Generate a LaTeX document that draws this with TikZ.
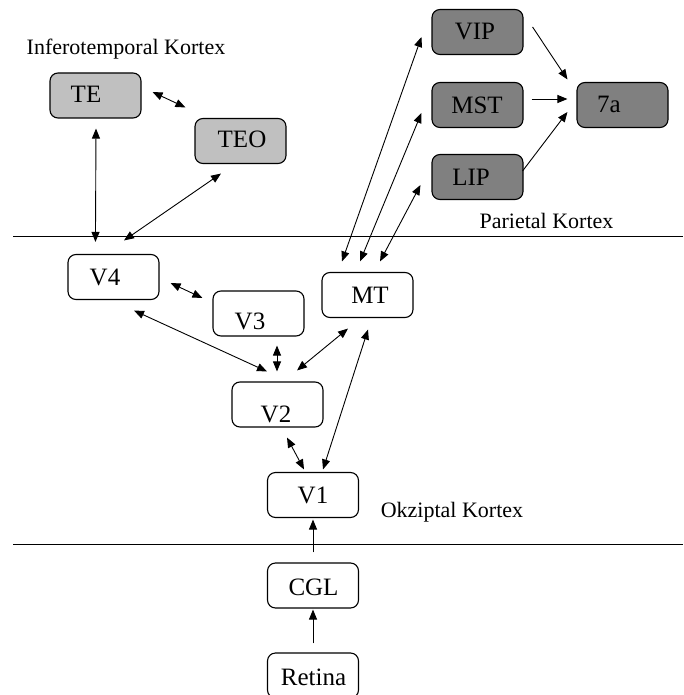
\documentclass[tikz,border=0pt]{standalone}
\usepackage{fontspec}
\setmainfont{Liberation Serif}
\usetikzlibrary{arrows.meta,calc}
\definecolor{itgray}{HTML}{C0C0C0}
\definecolor{pargray}{HTML}{808080}
\tikzset{
  area/.style={draw=none,rounded corners=8pt,line width=1.1pt,minimum width=91pt,minimum height=45pt,inner sep=0pt},
  box/.style={area,draw=black,fill=white},
  itbox/.style={area,draw=black,fill=itgray},
  parbox/.style={area,draw=black,fill=pargray},
  boxtxt/.style={anchor=base,inner sep=0pt,font=\fontsize{25}{29}\selectfont},
  region/.style={anchor=base,inner sep=0pt,font=\fontsize{22}{26}\selectfont},
  divider/.style={line width=0.9pt},
  link/.style={line width=0.9pt,->},
  biline/.style={line width=0.9pt,<->}
}
\begin{document}
\begin{tikzpicture}[x=1pt,y=-1pt,>={Triangle[length=10pt,width=8pt]}]
\useasboundingbox (0,0) rectangle (683,695);

% region dividers
\coordinate (divAl) at (13,236);
\coordinate (divAr) at (683,236);
\coordinate (divBl) at (13,544);
\coordinate (divBr) at (683,544);
\draw[divider] (divAl) -- (divAr);
\draw[divider] (divBl) -- (divBr);

% region captions
\node[region] (capIT) at (126,55) {Inferotemporal Kortex};
\node[region] (capPar) at (546.5,228) {Parietal Kortex};
\node[region] (capOcc) at (452,517) {Okziptal Kortex};

% inferotemporal areas
\node[itbox] (TE) at (95.5,95.5) {};
\node[boxtxt] (TEt) at (86,103) {TE};
\node[itbox] (TEO) at (240.5,141) {};
\node[boxtxt] (TEOt) at (242,148) {TEO};

% parietal areas
\node[parbox] (VIP) at (477.5,32) {};
\node[boxtxt] (VIPt) at (475,40) {VIP};
\node[parbox] (MST) at (477.5,105) {};
\node[boxtxt] (MSTt) at (477,114) {MST};
\node[parbox] (LIP) at (477.5,177) {};
\node[boxtxt] (LIPt) at (471,185) {LIP};
\node[parbox] (A7) at (622.5,105) {};
\node[boxtxt] (A7t) at (609,113) {7a};

% occipital areas
\node[box] (V4) at (113.5,277) {};
\node[boxtxt] (V4t) at (105,285) {V4};
\node[box] (V3) at (258.5,313.5) {};
\node[boxtxt] (V3t) at (250,329) {V3};
\node[box] (MT) at (367.5,295) {};
\node[boxtxt] (MTt) at (370,303) {MT};
\node[box] (V2) at (277.5,404.5) {};
\node[boxtxt] (V2t) at (276,422) {V2};
\node[box] (V1) at (313,495) {};
\node[boxtxt] (V1t) at (313,503) {V1};

% subcortical stations
\node[box] (CGL) at (313,585.5) {};
\node[boxtxt] (CGLt) at (313.5,595) {CGL};
\node[box] (Ret) at (313,675.5) {};
\node[boxtxt] (Rett) at (313.5,685) {Retina};

% ventral stream
\draw[biline] ($(TE.east)+(11,-3.5)$) -- ($(TEO.north west)+(-9,-10.5)$);
\draw[biline] ($(TE.south)+(0.5,10)$) -- ($(V4.north west)+(28,-12)$);
\draw[biline] ($(TEO.south)+(-19.5,9.5)$) -- ($(V4.north)+(10.5,-13.5)$);
\draw[biline] ($(V4.east)+(11,6)$) -- ($(V3.west)+(-10,-15.5)$);
\draw[biline] ($(V4.south)+(20.5,10.5)$) -- ($(V2.north)+(-10.5,-10)$);
\draw[biline] ($(V3.south)+(18.5,9)$) -- ($(V2.north)+(-0.5,-10)$);

% dorsal stream
\draw[biline] ($(MT.north)+(-25.5,-10.5)$) -- ($(VIP.west)+(-10,5)$);
\draw[biline] ($(MT.north)+(-7.5,-10.5)$) -- ($(MST.west)+(-10,8)$);
\draw[biline] ($(MT.north)+(12.5,-10.5)$) -- ($(LIP.west)+(-11,8)$);
\draw[biline] ($(V2.north)+(19.5,-11)$) -- ($(MT.south)+(-19.5,10.5)$);
\draw[biline] ($(MT.south)+(0.5,11.5)$) -- ($(V1.north)+(10,-2.5)$);
\draw[link] ($(VIP.east)+(9,-5)$) -- ($(A7.north west)+(-9,-2.5)$);
\draw[link] ($(MST.east)+(8,-6)$) -- ($(A7.west)+(-9,-6)$);
\draw[link] ($(LIP.east)+(-1,-6)$) -- ($(A7.west)+(-9,7)$);

% early pathway
\draw[biline] ($(V2.south)+(9.5,10)$) -- ($(V1.north)+(-9,-2.5)$);
\draw[link] ($(CGL.north)+(0,-10)$) -- ($(V1.south)+(0,1.5)$);
\draw[link] ($(Ret.north)+(0,-9)$) -- ($(CGL.south)+(0,1)$);
\end{tikzpicture}
\end{document}
